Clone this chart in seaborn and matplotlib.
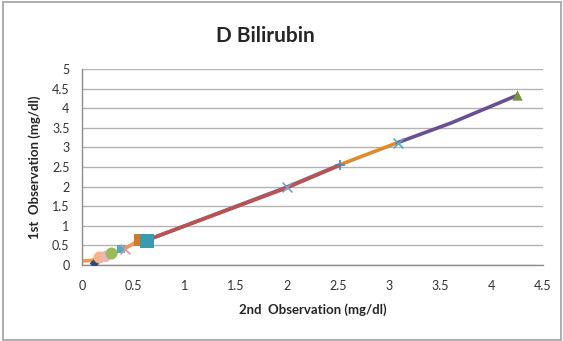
import matplotlib
matplotlib.use("Agg")
import matplotlib.pyplot as plt
import seaborn as sns
import pandas as pd
from matplotlib.patches import Rectangle

sns.set_style("white")
plt.rcParams['font.family'] = ['Lato', 'DejaVu Sans']

# line segments (2nd obs, 1st obs)
orange_low_x = [0.0, 0.1, 0.2, 0.3, 0.42, 0.55]
orange_low_y = [0.1, 0.12, 0.21, 0.3, 0.42, 0.62]
blue_x = [0.63, 2.0, 2.52]
blue_y = [0.63, 1.99, 2.56]
red_x = [0.6, 2.0, 2.52]
red_y = [0.6, 1.97, 2.55]
orange_x = [2.52, 3.08]
orange_y = [2.56, 3.12]
purple_x = [3.08, 3.6, 4.25]
purple_y = [3.12, 3.62, 4.33]

# markers
mk_x = [0.12, 0.17, 0.22, 0.28, 0.38, 0.42, 0.57, 0.63, 2.0, 2.52, 3.08, 4.25]
mk_y = [0.06, 0.2, 0.22, 0.31, 0.4, 0.42, 0.63, 0.62, 1.98, 2.56, 3.12, 4.33]
mk_shape = ['D', 'o', 'o', 'o', 's', 'x', 's', 's', 'x', '+', 'x', '^']
mk_color = ['#2C4D75', '#F9B38A', '#E6B9B8', '#9BBB59', '#4BACC6', '#D99694',
            '#D07A2A', '#3A9AB0', '#7F9CC8', '#4F81BD', '#4BACC6', '#77933C']
mk_size = [25, 75, 65, 75, 35, 50, 80, 90, 50, 50, 50, 55]

fig = plt.figure(figsize=(5.63, 3.41), dpi=100)
ax = fig.add_axes([0.1457, 0.2229, 0.8188, 0.5748])

for xs, ys, c, lw in [(blue_x, blue_y, '#4F81BD', 2.6), (red_x, red_y, '#C0504D', 2.6),
                      (orange_low_x, orange_low_y, '#F79646', 2.6),
                      (orange_x, orange_y, '#E08A2C', 2.6), (purple_x, purple_y, '#6A4F94', 2.6)]:
    sns.lineplot(x=xs, y=ys, ax=ax, color=c, linewidth=lw, sort=False, estimator=None)

for x, y, m, c, s in zip(mk_x, mk_y, mk_shape, mk_color, mk_size):
    lw = 1.2 if m in ('x', '+') else 0
    sns.scatterplot(x=[x], y=[y], ax=ax, marker=m, color=c, s=s, linewidth=lw,
                    edgecolor=c if m not in ('x', '+') else None, zorder=5)

ax.set_xlim(0, 4.5)
ax.set_ylim(0, 5)
xt = [0, 0.5, 1, 1.5, 2, 2.5, 3, 3.5, 4, 4.5]
yt = [0, 0.5, 1, 1.5, 2, 2.5, 3, 3.5, 4, 4.5, 5]
ax.set_xticks(xt)
ax.set_xticklabels(['0', '0.5', '1', '1.5', '2', '2.5', '3', '3.5', '4', '4.5'])
ax.set_yticks(yt)
ax.set_yticklabels(['0', '0.5', '1', '1.5', '2', '2.5', '3', '3.5', '4', '4.5', '5'])
ax.yaxis.grid(True, color='#B3B3B3', linewidth=1)
ax.xaxis.grid(False)
ax.set_axisbelow(True)
for sp in ['top', 'right']:
    ax.spines[sp].set_visible(False)
for sp in ['left', 'bottom']:
    ax.spines[sp].set_color('#8C8C8C')
    ax.spines[sp].set_linewidth(1)
ax.tick_params(axis='both', direction='out', length=4, width=1, color='#8C8C8C',
               labelsize=9, labelcolor='#333333', pad=5)
ax.tick_params(axis='x', pad=7)

ax.set_xlabel('2nd  Observation (mg/dl)', fontsize=9.5, fontweight='bold', labelpad=8)
ax.set_ylabel('1st  Observation (mg/dl)', fontsize=9.5, fontweight='bold', labelpad=8)
fig.text(0.471, 0.895, 'D Bilirubin', fontsize=15, fontweight='bold', ha='center', va='center')

fig.patches.append(Rectangle((0.006, 0.004), 0.99, 0.99, transform=fig.transFigure,
                             fill=False, edgecolor='#A0A0A0', linewidth=1.2))

fig.savefig('out.png', dpi=100)
